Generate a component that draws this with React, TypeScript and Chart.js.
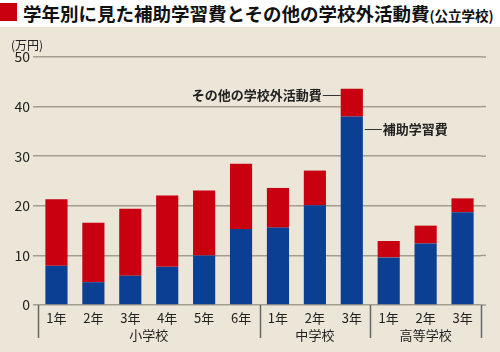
import React, { useEffect, useRef } from "react";
import { Chart, registerables } from "chart.js";

Chart.register(...registerables);

const categories = ["1年", "2年", "3年", "4年", "5年", "6年", "1年", "2年", "3年", "1年", "2年", "3年"];
const tutoring = [7.9, 4.6, 5.9, 7.7, 10.0, 15.3, 15.6, 20.1, 38.0, 9.6, 12.4, 18.7];
const otherActivities = [13.4, 12.0, 13.5, 14.4, 13.1, 13.2, 8.0, 7.0, 5.6, 3.3, 3.6, 2.8];
const groupLabels = ["小学校", "中学校", "高等学校"];
const groupSizes = [6, 3, 3];
const yTicks = [0, 10, 20, 30, 40, 50];
const unitLabel = "(万円)";
const otherLabel = "その他の学校外活動費";
const tutoringLabel = "補助学習費";
const otherLabelValue = 42.4;
const tutoringLabelValue = 35.4;
const labelBarIndex = 8;

const FONT = '"Noto Sans CJK JP", "Noto Sans", sans-serif';
const BLUE = "#0a3f93";
const RED = "#c8000f";
const BG = "#ebe6d8";
const GRID = "#a39d8f";

const overlayPlugin = {
  id: "overlay",
  beforeDraw(chart: any) {
    const { ctx, width, height } = chart;
    ctx.save();
    ctx.fillStyle = BG;
    ctx.fillRect(0, 0, width, height);
    ctx.restore();
  },
  afterDraw(chart: any) {
    const { ctx, chartArea } = chart;
    const x = chart.scales.x;
    const y = chart.scales.y;
    ctx.save();
    // extend grid lines to the right
    ctx.strokeStyle = GRID;
    ctx.lineWidth = 1.5;
    yTicks.forEach((v) => {
      const py = y.getPixelForValue(v);
      ctx.beginPath();
      ctx.moveTo(chartArea.right, py);
      ctx.lineTo(chartArea.right + 5, py);
      ctx.stroke();
    });
    // group separators
    const bounds: number[] = [chartArea.left];
    let idx = 0;
    groupSizes.forEach((n, gi) => {
      idx += n;
      if (gi < groupSizes.length - 1) {
        bounds.push((x.getPixelForValue(idx - 1) + x.getPixelForValue(idx)) / 2);
      }
    });
    bounds.push(chartArea.right);
    ctx.strokeStyle = "#666";
    ctx.lineWidth = 1.5;
    bounds.forEach((bx) => {
      ctx.beginPath();
      ctx.moveTo(Math.round(bx) + 0.5, chartArea.bottom);
      ctx.lineTo(Math.round(bx) + 0.5, chartArea.bottom + 33);
      ctx.stroke();
    });
    // group labels
    ctx.fillStyle = "#222";
    ctx.font = `13px ${FONT}`;
    ctx.textAlign = "center";
    ctx.textBaseline = "middle";
    let start = 0;
    groupSizes.forEach((n, gi) => {
      const cx = (x.getPixelForValue(start) + x.getPixelForValue(start + n - 1)) / 2;
      ctx.fillText(groupLabels[gi], cx, chartArea.bottom + 30);
      start += n;
    });
    // unit label
    ctx.textAlign = "left";
    ctx.font = `12px ${FONT}`;
    ctx.fillText(unitLabel, 11, chartArea.top - 12);
    // annotations
    const meta0 = chart.getDatasetMeta(0);
    const bar = meta0.data[labelBarIndex];
    const half = bar.width / 2;
    const left = bar.x - half;
    const right = bar.x + half;
    ctx.strokeStyle = "#333";
    ctx.lineWidth = 1;
    ctx.font = `bold 13px ${FONT}`;
    const oy = y.getPixelForValue(otherLabelValue);
    ctx.beginPath();
    ctx.moveTo(left - 18, Math.round(oy) + 0.5);
    ctx.lineTo(left, Math.round(oy) + 0.5);
    ctx.stroke();
    ctx.textAlign = "right";
    ctx.fillText(otherLabel, left - 19, oy);
    const ty = y.getPixelForValue(tutoringLabelValue);
    ctx.beginPath();
    ctx.moveTo(right + 2, Math.round(ty) + 0.5);
    ctx.lineTo(right + 19, Math.round(ty) + 0.5);
    ctx.stroke();
    ctx.textAlign = "left";
    ctx.fillText(tutoringLabel, right + 20, ty);
    ctx.restore();
  },
};

export default function App() {
  const ref = useRef<HTMLCanvasElement>(null);
  useEffect(() => {
    document.body.style.margin = "0";
    const chart = new Chart(ref.current!, {
      type: "bar",
      data: {
        labels: categories,
        datasets: [
          { label: tutoringLabel, data: tutoring, backgroundColor: BLUE },
          { label: otherLabel, data: otherActivities, backgroundColor: RED },
        ],
      },
      options: {
        responsive: false,
        animation: false,
        devicePixelRatio: 1,
        layout: { padding: { top: 30, right: 19, left: 0, bottom: 0 } },
        datasets: { bar: { categoryPercentage: 1, barPercentage: 0.6 } },
        plugins: { legend: { display: false }, tooltip: { enabled: false }, title: { display: false } },
        scales: {
          x: {
            stacked: true,
            grid: { display: false, drawTicks: false },
            border: { display: false },
            ticks: { font: { family: FONT, size: 13 }, color: "#222", padding: 5, maxRotation: 0, autoSkip: false },
            afterFit: (s: any) => { s.height = 47; },
          },
          y: {
            stacked: true,
            min: 0,
            max: 50,
            afterBuildTicks: (s: any) => { s.ticks = yTicks.map((v) => ({ value: v })); },
            grid: { color: GRID, lineWidth: 1.5, tickLength: 5, drawTicks: true },
            border: { display: false },
            ticks: { font: { family: FONT, size: 14 }, color: "#222", padding: 3 },
            afterFit: (s: any) => { s.width = 38; },
          },
        },
      } as any,
      plugins: [overlayPlugin],
    });
    return () => chart.destroy();
  }, []);
  return (
    <div style={{ position: "fixed", left: 0, top: 0, width: 500, height: 352, background: "#fff", overflow: "hidden" }}>
      <div style={{ position: "absolute", left: 0, top: 3, width: 17, height: 18, background: RED }} />
      <div
        style={{
          position: "absolute",
          left: 23,
          top: 0,
          height: 26,
          lineHeight: "26px",
          whiteSpace: "nowrap",
          fontFamily: FONT,
          fontWeight: 700,
          fontSize: 18.5,
          color: "#111",
          letterSpacing: 0,
        }}
      >
        学年別に見た補助学習費とその他の学校外活動費
        <span style={{ fontSize: 13.5 }}>(公立学校)</span>
      </div>
      <canvas ref={ref} width={500} height={325} style={{ position: "absolute", left: 0, top: 27, display: "block" }} />
    </div>
  );
}
